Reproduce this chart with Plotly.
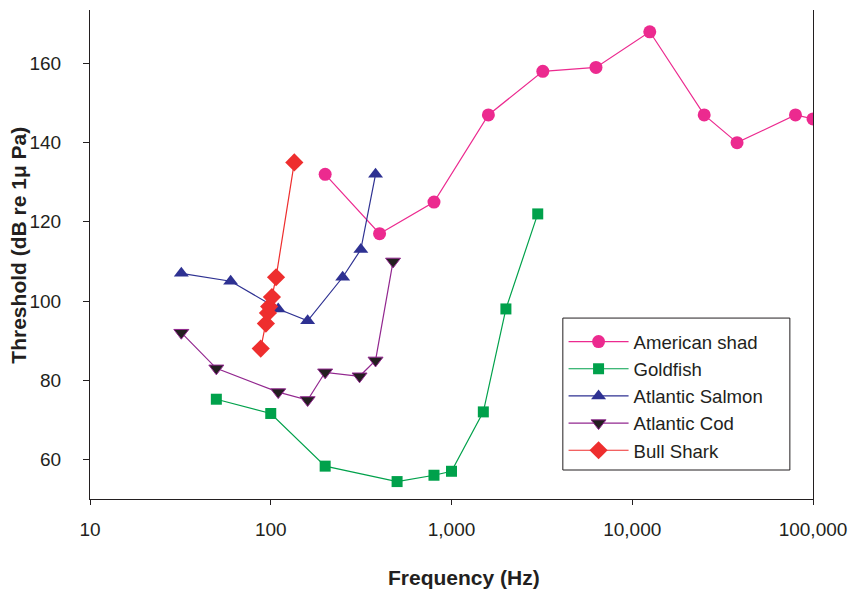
import plotly.graph_objects as go

# ---- data ----
shad_x = [200, 400, 800, 1600, 3200, 6300, 12500, 25000, 38000, 80000, 100000]
shad_y = [132, 117, 125, 147, 158, 159, 168, 147, 140, 147, 146]

gold_x = [50, 100, 200, 500, 800, 1000, 1500, 2000, 3000]
gold_y = [75.2, 71.6, 58.3, 54.4, 56, 57, 72, 98, 122]

salmon_x = [32, 60, 110, 160, 250, 315, 380]
salmon_y = [107, 105, 98, 95, 106, 113, 132]

cod_x = [32, 50, 110, 160, 200, 310, 380, 475]
cod_y = [92, 83, 77, 75, 82, 81, 85, 110]

shark_x = [88, 94, 96.5, 98, 101.5, 107, 135]
shark_y = [88, 94.3, 97, 98.6, 101, 106, 135]

x_ticks = [10, 100, 1000, 10000, 100000]
x_tick_labels = ["10", "100", "1,000", "10,000", "100,000"]
y_ticks = [60, 80, 100, 120, 140, 160]

FONT = "Liberation Sans, Arial, Helvetica, sans-serif"
INK = "#231F20"

fig = go.Figure()
fig.add_trace(go.Scatter(x=shad_x, y=shad_y, name="American shad", mode="lines+markers",
                         line=dict(color="#EC2A8F", width=1.2),
                         marker=dict(symbol="circle", size=13, color="#EC2A8F")))
fig.add_trace(go.Scatter(x=gold_x, y=gold_y, name="Goldfish", mode="lines+markers",
                         line=dict(color="#00A14B", width=1.2),
                         marker=dict(symbol="square", size=11, color="#00A14B")))
fig.add_trace(go.Scatter(x=salmon_x, y=salmon_y, name="Atlantic Salmon", mode="lines+markers",
                         line=dict(color="#2E3192", width=1.2),
                         marker=dict(symbol="triangle-up", size=13, color="#2E3192")))
fig.add_trace(go.Scatter(x=cod_x, y=cod_y, name="Atlantic Cod", mode="lines+markers",
                         line=dict(color="#92278F", width=1.2),
                         marker=dict(symbol="triangle-down", size=13, color=INK,
                                     line=dict(color="#92278F", width=1))))
fig.add_trace(go.Scatter(x=shark_x, y=shark_y, name="Bull Shark", mode="lines+markers",
                         line=dict(color="#EE2E2E", width=1.2),
                         marker=dict(symbol="diamond", size=14, color="#EE2E2E")))

fig.update_layout(
    width=854, height=590,
    margin=dict(l=90, r=41, t=10, b=91),
    paper_bgcolor="white", plot_bgcolor="white",
    font=dict(family=FONT, color=INK, size=19),
    showlegend=True,
    legend=dict(x=0.655, y=0.36, xanchor="left", yanchor="top",
                borderwidth=0, bgcolor="rgba(0,0,0,0)",
                font=dict(family=FONT, size=18.6, color=INK),
                itemwidth=60, tracegroupgap=0),
    shapes=[dict(type="rect", xref="paper", yref="paper",
                 x0=0.654, x1=0.968, y0=0.0593, y1=0.370,
                 line=dict(color=INK, width=1), fillcolor="rgba(0,0,0,0)", layer="above")],
    xaxis=dict(type="log", range=[1, 5], tickvals=x_ticks, ticktext=x_tick_labels,
               automargin=False,
               showgrid=False, zeroline=False, showline=True, linecolor=INK, linewidth=1,
               ticks="outside", ticklen=5, tickcolor=INK, ticklabelstandoff=8,
               tickfont=dict(size=19, color=INK)),
    yaxis=dict(range=[50, 173.5], tickvals=y_ticks, automargin=False,
               showgrid=False, zeroline=False, showline=True, mirror=True,
               linecolor=INK, linewidth=1,
               ticks="outside", ticklen=6, tickcolor=INK, ticklabelstandoff=18,
               tickfont=dict(size=19, color=INK)),
    annotations=[
        dict(text="<b>Frequency (Hz)</b>", xref="paper", yref="paper",
             x=0.517, y=-0.16, xanchor="center", yanchor="middle", showarrow=False,
             font=dict(family=FONT, size=21, color=INK)),
        dict(text="<b>Threshold (dB re 1\u03bc Pa)</b>", xref="paper", yref="paper",
             x=-0.099, y=0.519, xanchor="center", yanchor="middle", showarrow=False,
             textangle=-90, font=dict(family=FONT, size=21, color=INK)),
    ],
)

fig.write_html("out.html", config={"displayModeBar": False},
               post_script="document.body.style.margin='0px';")
